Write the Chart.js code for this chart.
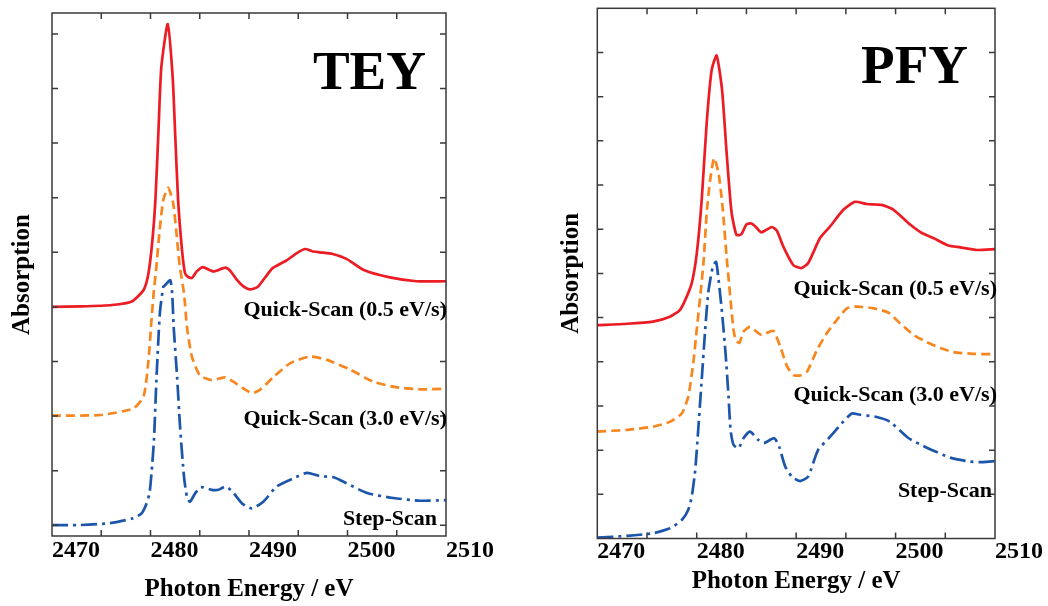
<!DOCTYPE html>
<html>
<head>
<meta charset="utf-8">
<script src="https://cdn.jsdelivr.net/npm/chart.js@4.4.1/dist/chart.umd.min.js"></script>
<style>
  html, body { margin: 0; padding: 0; background: #fff; }
  body { width: 1048px; height: 606px; position: relative; overflow: hidden; }
  canvas { position: absolute; top: 0; }
  #tey { left: 0; }
  #pfy { left: 540px; }
</style>
</head>
<body>
<canvas id="tey" width="520" height="606"></canvas>
<canvas id="pfy" width="508" height="606"></canvas>
<script>
// --- TEY (left panel) ---
const teyQ05E = [2470.0, 2473.0, 2476.1, 2478.1, 2479.3, 2479.8, 2480.2, 2480.5, 2480.8, 2481.1, 2481.75, 2482.25, 2482.5, 2482.8, 2483.2, 2483.5, 2483.8, 2484.2, 2484.7, 2485.3, 2486.4, 2487.6, 2488.1, 2488.8, 2489.4, 2490.1, 2490.9, 2491.6, 2492.4, 2493.8, 2494.9, 2495.7, 2496.4, 2497.2, 2498.5, 2499.9, 2501.6, 2504.3, 2507.0, 2510.0];
const teyQ05A = [4.00, 4.01, 4.035, 4.10, 4.31, 4.62, 5.23, 5.96, 7.19, 8.39, 9.18, 8.21, 7.19, 5.96, 5.04, 4.62, 4.55, 4.53, 4.65, 4.73, 4.65, 4.72, 4.66, 4.49, 4.38, 4.32, 4.37, 4.53, 4.71, 4.85, 4.99, 5.06, 5.02, 5.00, 4.97, 4.88, 4.68, 4.54, 4.47, 4.47];

const teyQ30E = [2470.0, 2474.9, 2478.25, 2479.3, 2479.8, 2480.1, 2480.35, 2480.6, 2480.9, 2481.3, 2481.8, 2482.3, 2482.7, 2482.95, 2483.4, 2483.7, 2484.2, 2485.0, 2486.2, 2487.6, 2488.4, 2489.4, 2490.3, 2491.1, 2492.5, 2494.2, 2496.2, 2497.9, 2500.3, 2502.6, 2504.9, 2507.4, 2510.0];
const teyQ30A = [2.01, 2.02, 2.14, 2.36, 3.03, 3.76, 4.31, 4.74, 5.35, 5.96, 6.18, 5.90, 5.23, 4.77, 4.25, 3.64, 3.09, 2.75, 2.66, 2.71, 2.63, 2.51, 2.42, 2.48, 2.72, 2.97, 3.09, 3.03, 2.85, 2.63, 2.53, 2.49, 2.50];

const teyStepE = [2470.0, 2472.8, 2475.9, 2478.25, 2479.1, 2479.6, 2479.9, 2480.1, 2480.35, 2480.6, 2480.95, 2481.3, 2481.5, 2482.0, 2482.2, 2482.35, 2482.7, 2483.0, 2483.4, 2483.7, 2484.0, 2484.55, 2485.1, 2486.2, 2486.9, 2487.6, 2488.3, 2489.3, 2490.3, 2491.45, 2492.8, 2494.5, 2495.9, 2497.2, 2498.6, 2499.9, 2502.0, 2504.65, 2507.4, 2510.0];
const teyStepA = [0.005, 0.005, 0.04, 0.13, 0.22, 0.40, 0.59, 0.95, 1.56, 2.66, 3.88, 4.37, 4.40, 4.49, 4.25, 3.64, 2.72, 1.81, 0.89, 0.52, 0.43, 0.59, 0.70, 0.65, 0.65, 0.71, 0.62, 0.40, 0.31, 0.43, 0.71, 0.86, 0.96, 0.90, 0.88, 0.77, 0.59, 0.50, 0.45, 0.46];

// --- PFY (right panel) ---
const pfyQ05E = [2470.0, 2473.0, 2475.6, 2477.3, 2478.3, 2478.85, 2479.5, 2480.0, 2480.5, 2481.0, 2481.5, 2482.0, 2482.55, 2483.0, 2483.5, 2484.0, 2484.5, 2485.0, 2485.5, 2486.0, 2486.5, 2487.55, 2488.05, 2488.7, 2489.7, 2490.5, 2491.2, 2492.4, 2493.4, 2494.75, 2495.9, 2497.1, 2498.6, 2499.8, 2501.5, 2502.6, 2503.8, 2505.3, 2506.5, 2508.2, 2510.0];
const pfyQ05A = [4.83, 4.86, 4.91, 5.02, 5.17, 5.40, 5.78, 6.44, 7.66, 9.40, 10.60, 10.93, 10.15, 8.75, 7.39, 6.87, 6.89, 7.11, 7.13, 7.04, 6.93, 7.05, 6.97, 6.61, 6.19, 6.12, 6.23, 6.80, 7.06, 7.44, 7.62, 7.57, 7.55, 7.44, 7.10, 6.92, 6.80, 6.63, 6.59, 6.53, 6.55];

const pfyQ30E = [2470.0, 2473.0, 2475.6, 2477.3, 2478.5, 2479.15, 2479.65, 2480.0, 2480.35, 2480.7, 2481.0, 2481.35, 2481.75, 2482.2, 2482.6, 2483.0, 2483.35, 2483.7, 2483.95, 2484.3, 2484.7, 2485.35, 2486.5, 2487.7, 2488.4, 2489.1, 2489.75, 2490.4, 2491.1, 2492.1, 2493.1, 2494.1, 2495.1, 2496.1, 2497.8, 2499.3, 2500.45, 2501.8, 2503.1, 2504.5, 2505.8, 2507.8, 2510.0];
const pfyQ30A = [2.42, 2.46, 2.53, 2.64, 2.83, 3.21, 3.97, 4.72, 5.47, 6.30, 7.36, 8.12, 8.61, 8.26, 7.50, 6.39, 5.53, 4.72, 4.48, 4.43, 4.68, 4.79, 4.61, 4.70, 4.34, 3.89, 3.70, 3.69, 3.78, 4.27, 4.65, 4.95, 5.21, 5.25, 5.21, 5.11, 4.87, 4.61, 4.45, 4.31, 4.22, 4.18, 4.17];

const pfyStepE = [2470.0, 2473.0, 2475.6, 2477.3, 2478.5, 2479.15, 2479.5, 2479.85, 2480.15, 2480.5, 2480.85, 2481.15, 2481.4, 2481.65, 2481.95, 2482.2, 2482.55, 2482.9, 2483.2, 2483.4, 2483.7, 2484.2, 2484.7, 2485.35, 2486.2, 2486.75, 2487.8, 2488.3, 2488.9, 2489.6, 2490.4, 2491.2, 2492.2, 2493.4, 2494.6, 2495.6, 2496.4, 2497.9, 2499.45, 2501.25, 2503.2, 2505.5, 2507.5, 2508.8, 2510.0];
const pfyStepA = [0.02, 0.06, 0.12, 0.23, 0.42, 0.65, 0.95, 1.55, 2.46, 3.59, 4.72, 5.55, 5.90, 6.17, 6.26, 5.85, 5.10, 4.19, 3.21, 2.46, 2.12, 2.04, 2.27, 2.42, 2.23, 2.16, 2.27, 2.07, 1.63, 1.39, 1.30, 1.40, 2.00, 2.30, 2.61, 2.83, 2.80, 2.76, 2.64, 2.28, 2.05, 1.83, 1.74, 1.73, 1.75];

const xTickMarks = [2475, 2480, 2485, 2490, 2495, 2500, 2505];
const teyYTicks = [0, 1, 2, 3, 4, 5, 6, 7, 8, 9];
const pfyYTicks = [1, 2, 3, 4, 5, 6, 7, 8, 9, 10, 11];

const serif = 'Liberation Serif';

function zip(xs, ys) {
  const pts = [];
  for (let i = 0; i < Math.min(xs.length, ys.length); i++) pts.push({ x: xs[i], y: ys[i] });
  return pts;
}

function series(xs, ys, color, dash) {
  return {
    data: zip(xs, ys),
    borderColor: color,
    borderWidth: 2.7,
    borderDash: dash,
    pointRadius: 0,
    fill: false,
    tension: 0.2
  };
}

// frame, inner ticks and the texts inside the plot
const framePlugin = {
  id: 'frame',
  afterDatasetsDraw(chart, args, o) {
    const { ctx, chartArea: a } = chart;
    const x = chart.scales.x, y = chart.scales.y;
    ctx.save();
    ctx.strokeStyle = '#3a3a3a';
    ctx.lineWidth = 1.5;
    ctx.strokeRect(a.left, a.top, a.right - a.left, a.bottom - a.top);
    ctx.beginPath();
    xTickMarks.forEach(v => {
      const px = x.getPixelForValue(v);
      ctx.moveTo(px, a.top); ctx.lineTo(px, a.top + 6);
      ctx.moveTo(px, a.bottom); ctx.lineTo(px, a.bottom - 6);
    });
    o.yTicks.forEach(v => {
      const py = y.getPixelForValue(v);
      ctx.moveTo(a.left, py); ctx.lineTo(a.left + 6, py);
      ctx.moveTo(a.right, py); ctx.lineTo(a.right - 6, py);
    });
    ctx.stroke();

    ctx.fillStyle = '#000';
    ctx.textAlign = 'right';
    ctx.textBaseline = 'alphabetic';
    ctx.font = 'bold 55px "' + serif + '"';
    ctx.fillText(o.tag, a.right - o.tagDx, o.tagY);
    ctx.font = 'bold 22px "' + serif + '"';
    o.notes.forEach(n => ctx.fillText(n.text, a.right + n.dx, n.y));
    ctx.restore();
  }
};

function makeChart(id, cfg) {
  return new Chart(document.getElementById(id), {
    type: 'line',
    data: {
      datasets: [
        series(cfg.stepE, cfg.stepA, '#1c56ab', [16, 5, 3, 5]),
        series(cfg.q30E, cfg.q30A, '#f7861f', [9, 5]),
        series(cfg.q05E, cfg.q05A, '#ec1c24', [])
      ]
    },
    options: {
      responsive: false,
      animation: false,
      devicePixelRatio: 1,
      layout: { padding: cfg.padding },
      plugins: {
        legend: { display: false },
        tooltip: { enabled: false },
        frame: { yTicks: cfg.yTicks, tag: cfg.tag, tagDx: cfg.tagDx, tagY: cfg.tagY, notes: cfg.notes }
      },
      scales: {
        x: {
          type: 'linear',
          min: 2470,
          max: 2510,
          grid: { display: false, drawTicks: false },
          border: { display: false },
          ticks: {
            stepSize: 10,
            align: 'start',
            autoSkip: false,
            maxRotation: 0,
            padding: cfg.tickPad,
            color: '#000',
            font: { family: serif, size: 24, weight: 'bold', lineHeight: 1.1 },
            callback: v => String(v)
          },
          title: {
            display: true,
            text: 'Photon Energy / eV',
            color: '#000',
            font: { family: serif, size: 25, weight: 'bold', lineHeight: 1.2 },
            padding: { top: 0, bottom: cfg.xTitlePad }
          },
          afterFit(s) { s.height = cfg.xHeight; }
        },
        y: {
          min: cfg.yMin,
          max: cfg.yMax,
          grid: { display: false, drawTicks: false },
          border: { display: false },
          ticks: { display: false },
          title: {
            display: true,
            text: 'Absorption',
            color: '#000',
            font: { family: serif, size: 25, weight: 'bold', lineHeight: 1.2 },
            padding: { top: cfg.yTitlePad, bottom: 0 }
          },
          afterFit(s) { s.width = cfg.yWidth; }
        }
      }
    },
    plugins: [framePlugin]
  });
}

makeChart('tey', {
  q05E: teyQ05E, q05A: teyQ05A, q30E: teyQ30E, q30A: teyQ30A, stepE: teyStepE, stepA: teyStepA,
  yMin: -0.196, yMax: 9.383, yTicks: teyYTicks,
  padding: { left: 0, top: 13, right: 74, bottom: 0 },
  yWidth: 52, xHeight: 70, tickPad: 2, xTitlePad: 1.4, yTitlePad: 7.5,
  tag: 'TEY', tagDx: 20, tagY: 89,
  notes: [
    { text: 'Quick-Scan (0.5 eV/s)', dx: 1, y: 316 },
    { text: 'Quick-Scan (3.0 eV/s)', dx: 1, y: 425 },
    { text: 'Step-Scan', dx: -9, y: 525 }
  ]
});

makeChart('pfy', {
  q05E: pfyQ05E, q05A: pfyQ05A, q30E: pfyQ30E, q30A: pfyQ30A, stepE: pfyStepE, stepA: pfyStepA,
  yMin: 0, yMax: 12, yTicks: pfyYTicks,
  padding: { left: 0, top: 8.3, right: 53, bottom: 0 },
  yWidth: 57.3, xHeight: 67.5, tickPad: 0, xTitlePad: 9.4, yTitlePad: 17,
  tag: 'PFY', tagDx: 27, tagY: 83,
  notes: [
    { text: 'Quick-Scan (0.5 eV/s)', dx: 2, y: 295 },
    { text: 'Quick-Scan (3.0 eV/s)', dx: 2, y: 401 },
    { text: 'Step-Scan', dx: -3, y: 497 }
  ]
});
</script>
</body>
</html>
